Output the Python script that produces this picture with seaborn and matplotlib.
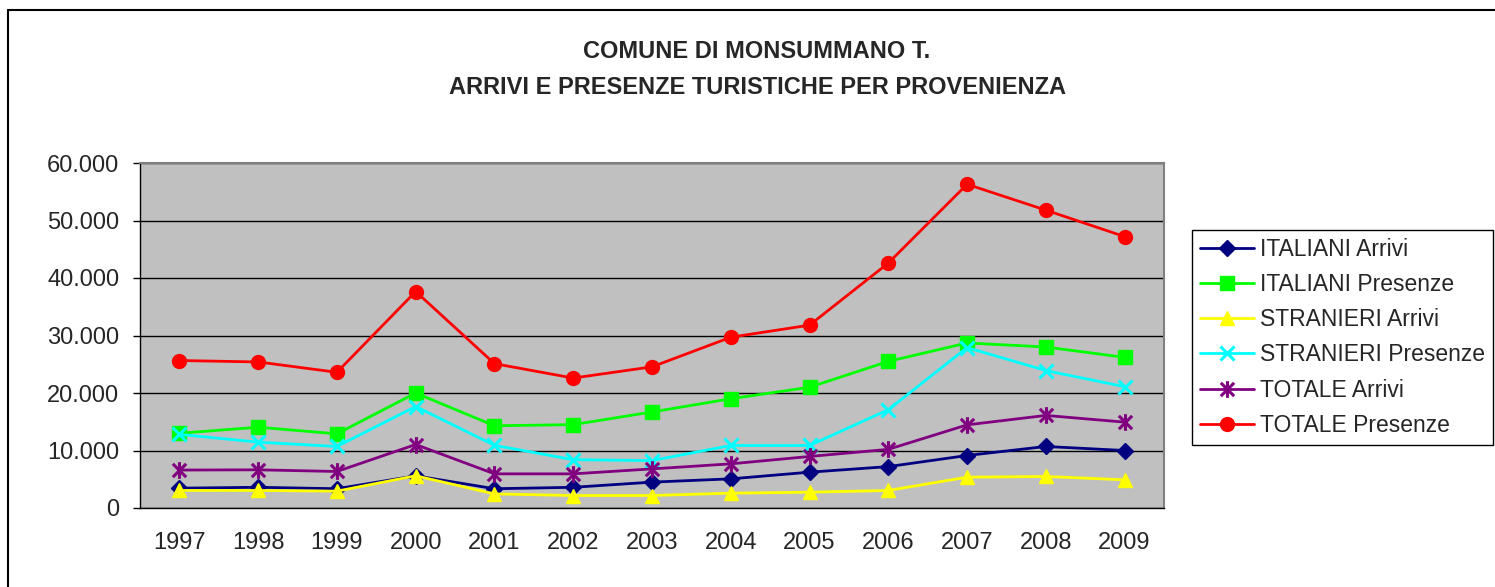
import numpy as np
import pandas as pd
import matplotlib
matplotlib.use("Agg")
import matplotlib.pyplot as plt
import seaborn as sns
from matplotlib.path import Path
from matplotlib.lines import Line2D
from matplotlib.ticker import FuncFormatter, FixedLocator

years = ["1997", "1998", "1999", "2000", "2001", "2002", "2003",
         "2004", "2005", "2006", "2007", "2008", "2009"]

italiani_arrivi = [3450, 3600, 3350, 5600, 3350, 3600, 4500, 5070, 6230, 7200, 9130, 10700, 10000]
italiani_presenze = [13000, 14050, 12900, 20000, 14300, 14500, 16700, 19000, 21000, 25500, 28700, 28000, 26200]
stranieri_arrivi = [3050, 3050, 2930, 5600, 2450, 2170, 2170, 2580, 2750, 3050, 5360, 5480, 4900]
stranieri_presenze = [12800, 11450, 10700, 17650, 10900, 8400, 8250, 10870, 10870, 17100, 27900, 23900, 21100]
totale_arrivi = [6600, 6640, 6350, 11040, 5940, 5940, 6800, 7680, 8960, 10200, 14460, 16100, 14930]
totale_presenze = [25650, 25400, 23600, 37650, 25100, 22600, 24550, 29700, 31800, 42600, 56300, 51800, 47200]

series_names = ["ITALIANI Arrivi", "ITALIANI Presenze", "STRANIERI Arrivi",
                "STRANIERI Presenze", "TOTALE Arrivi", "TOTALE Presenze"]
series_values = [italiani_arrivi, italiani_presenze, stranieri_arrivi,
                 stranieri_presenze, totale_arrivi, totale_presenze]
colors = ["#000080", "#00FF00", "#FFFF00", "#00FFFF", "#800080", "#FF0000"]

# excel-like star marker: X plus a vertical bar
star = Path([(0, -1), (0, 1), (-0.8, -0.8), (0.8, 0.8), (-0.8, 0.8), (0.8, -0.8)],
            [Path.MOVETO, Path.LINETO, Path.MOVETO, Path.LINETO, Path.MOVETO, Path.LINETO])
markers = ["D", "s", "^", "x", star, "o"]
msizes = [8, 10, 10, 10, 12, 10]

sns.set_style("white")
plt.rcParams["font.family"] = ["Liberation Sans", "DejaVu Sans"]

fig = plt.figure(figsize=(14.95, 5.87), dpi=100)
ax = fig.add_axes([140 / 1495, 79 / 587, 1024 / 1495, 345 / 587])
ax.set_facecolor("#C0C0C0")

x = np.arange(len(years))
for name, vals, col, mk, ms in zip(series_names, series_values, colors, markers, msizes):
    filled = mk not in ("x",) and not isinstance(mk, Path)
    sns.lineplot(x=x, y=vals, ax=ax, color=col, linewidth=2.0, label=name,
                 marker=mk, markersize=ms,
                 markerfacecolor=col if filled else "none",
                 markeredgecolor=col, markeredgewidth=1.0 if filled else 2.2)

ax.set_xlim(-0.5, len(years) - 0.5)
ax.set_ylim(0, 60000)
ax.set_yticks(np.arange(0, 60001, 10000))
ax.yaxis.set_major_formatter(FuncFormatter(lambda v, p: f"{int(v):,}".replace(",", ".")))
ax.yaxis.grid(True, color="black", linewidth=1.0)
ax.set_axisbelow(True)
ax.set_xticks(x)
ax.set_xticklabels(years)
ax.xaxis.set_minor_locator(FixedLocator(np.arange(-0.5, len(years), 1.0)))
ax.tick_params(axis="x", which="major", length=0, pad=17, labelsize=17)
ax.tick_params(axis="x", which="minor", length=5, width=1, color="black", direction="out")
ax.tick_params(axis="y", length=5, width=1, color="black", direction="out", pad=10, labelsize=17)
ax.tick_params(axis="both", bottom=True, left=True)
for s in ["top", "right"]:
    ax.spines[s].set_color("#808080")
    ax.spines[s].set_linewidth(1.5)
for s in ["left", "bottom"]:
    ax.spines[s].set_color("black")
    ax.spines[s].set_linewidth(1.0)
ax.set_xlabel("")
ax.set_ylabel("")

leg = ax.legend(loc="upper left", bbox_to_anchor=(1192 / 1495, 1 - 230 / 587),
                bbox_transform=fig.transFigure, fancybox=False, framealpha=1,
                edgecolor="black", fontsize=16.5, handlelength=2.35, handletextpad=0.25,
                labelspacing=0.53, borderpad=0.35, borderaxespad=0)
leg.get_frame().set_linewidth(1.0)

fig.text(757 / 1495, 1 - 51 / 587, "COMUNE DI MONSUMMANO T.", ha="center", va="center",
         fontsize=17, fontweight="bold")
fig.text(757 / 1495, 1 - 88 / 587, "ARRIVI E PRESENZE TURISTICHE PER PROVENIENZA", ha="center",
         va="center", fontsize=17, fontweight="bold")

# chart area border: only the top and left edges are inside the picture
fig.add_artist(Line2D([8 / 1495, 8 / 1495], [0, 1 - 10 / 587], transform=fig.transFigure,
                      color="black", linewidth=1.5))
fig.add_artist(Line2D([8 / 1495, 1], [1 - 10 / 587, 1 - 10 / 587], transform=fig.transFigure,
                      color="black", linewidth=1.5))

fig.savefig("out.png", dpi=100)
